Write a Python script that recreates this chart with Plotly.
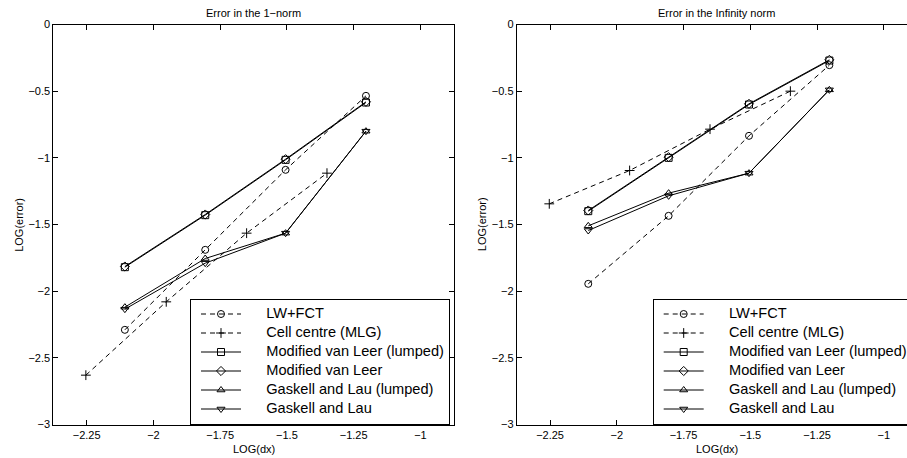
import plotly.graph_objects as go

# ---------------- data ----------------
dx_fine = [-2.107, -1.806, -1.505, -1.204]
dx_cell = [-2.253, -1.952, -1.651, -1.350]

series_names = ["LW+FCT", "Cell centre (MLG)", "Modified van Leer (lumped)",
                "Modified van Leer", "Gaskell and Lau (lumped)", "Gaskell and Lau"]

# Error in the 1-norm
lw_fct_1 = [-2.29, -1.69, -1.09, -0.535]
cell_1 = [-2.63, -2.08, -1.565, -1.115]
mvl_lumped_1 = [-1.82, -1.43, -1.015, -0.585]
mvl_1 = [-1.815, -1.425, -1.01, -0.58]
gl_lumped_1 = [-2.12, -1.755, -1.565, -0.80]
gl_1 = [-2.135, -1.79, -1.565, -0.80]

# Error in the Infinity norm
lw_fct_inf = [-1.945, -1.435, -0.835, -0.305]
cell_inf = [-1.345, -1.095, -0.785, -0.50]
mvl_lumped_inf = [-1.40, -1.0, -0.60, -0.27]
mvl_inf = [-1.395, -0.995, -0.595, -0.265]
gl_lumped_inf = [-1.51, -1.265, -1.115, -0.49]
gl_inf = [-1.545, -1.285, -1.115, -0.49]

x_tickvals = [-2.25, -2, -1.75, -1.5, -1.25, -1]
x_ticktext = ["\u22122.25", "\u22122", "\u22121.75", "\u22121.5", "\u22121.25", "\u22121"]
y_tickvals = [-3, -2.5, -2, -1.5, -1, -0.5, 0]
y_ticktext = ["\u22123", "\u22122.5", "\u22122", "\u22121.5", "\u22121", "\u22120.5", "0"]

titles = ["Error in the 1\u2212norm", "Error in the Infinity norm"]

# ---------------- figure ----------------
W, H = 907, 458
FONT = "Liberation Sans, Arial, Helvetica, sans-serif"
LEG_FS = 14.6

symbols = ["circle-open", "cross-thin-open", "square-open",
           "diamond-open", "triangle-up-open", "triangle-down-open"]
dashes = ["5px,4px", "5px,4px", "solid", "solid", "solid", "solid"]


def legend_label(name):
    return "<span style='font-size:%spx'>     %s</span>" % (LEG_FS, name)


fig = go.Figure()

panels = [
    (dx_fine, dx_cell, [lw_fct_1, cell_1, mvl_lumped_1, mvl_1, gl_lumped_1, gl_1], "x", "y", "legend"),
    (dx_fine, dx_cell, [lw_fct_inf, cell_inf, mvl_lumped_inf, mvl_inf, gl_lumped_inf, gl_inf], "x2", "y2", "legend2"),
]

for xf, xc, ys, xa, ya, lg in panels:
    for i, (name, yv) in enumerate(zip(series_names, ys)):
        xv = xc if i == 1 else xf
        fig.add_trace(go.Scatter(
            x=xv, y=yv, name=legend_label(name), mode="lines+markers",
            xaxis=xa, yaxis=ya, legend=lg,
            line=dict(color="black", width=1, dash=dashes[i]),
            marker=dict(symbol=symbols[i], size=7, color="black",
                        line=dict(color="black", width=1)),
        ))

# pixel geometry
ax_left = [53.3, 516.7]
px_per_x = 267.0
y_top, y_bot = 24.5, 424.5
x_lo = -2.375


def px(v):
    return v / W


def py(v):
    return 1 - v / H


axis_common = dict(
    showline=True, linecolor="black", linewidth=1,
    ticks="inside", ticklen=5, tickcolor="black", tickwidth=1,
    showgrid=False, zeroline=False,
    tickfont=dict(family=FONT, size=11, color="black"),
)

x1_right = ax_left[0] + 1.5 * px_per_x
x2_right = W
x2_hi = x_lo + (x2_right - ax_left[1]) / px_per_x

fig.update_layout(
    width=W, height=H,
    margin=dict(l=0, r=0, t=0, b=0, autoexpand=False),
    paper_bgcolor="white", plot_bgcolor="white",
    font=dict(family=FONT, size=11, color="black"),
    xaxis=dict(domain=[px(ax_left[0]), px(x1_right)], range=[x_lo, x_lo + 1.5],
               tickvals=x_tickvals, ticktext=x_ticktext, mirror="ticks",
               anchor="y", **axis_common),
    yaxis=dict(domain=[py(y_bot), py(y_top)], range=[-3, 0],
               tickvals=y_tickvals, ticktext=y_ticktext, mirror="ticks",
               anchor="x", **axis_common),
    xaxis2=dict(domain=[px(ax_left[1]), 1.0], range=[x_lo, x2_hi],
                tickvals=x_tickvals, ticktext=x_ticktext, mirror="ticks",
                anchor="y2", **axis_common),
    yaxis2=dict(domain=[py(y_bot), py(y_top)], range=[-3, 0],
                tickvals=y_tickvals, ticktext=y_ticktext, mirror=False,
                anchor="x2", **axis_common),
    showlegend=True,
)

legend_common = dict(
    bgcolor="white", bordercolor="black", borderwidth=1,
    font=dict(family=FONT, size=11, color="black"),
    xanchor="left", yanchor="bottom", itemwidth=40, indentation=5,
    tracegroupgap=0,
)
fig.update_layout(
    legend=dict(x=px(190), y=py(424.5), **legend_common),
    legend2=dict(x=px(652.7), y=py(424.5), **legend_common),
)

annotations = []
for k in range(2):
    cx = ax_left[k] + 0.75 * px_per_x
    annotations.append(dict(text=titles[k], x=px(cx), y=py(12.7), xref="paper", yref="paper",
                            xanchor="center", yanchor="middle", showarrow=False,
                            font=dict(family=FONT, size=11, color="black")))
    annotations.append(dict(text="LOG(dx)", x=px(cx), y=py(449), xref="paper", yref="paper",
                            xanchor="center", yanchor="middle", showarrow=False,
                            font=dict(family=FONT, size=11, color="black")))
    annotations.append(dict(text="LOG(error)", x=px(ax_left[k] - 35), y=py((y_top + y_bot) / 2),
                            xref="paper", yref="paper", textangle=-90,
                            xanchor="center", yanchor="middle", showarrow=False,
                            font=dict(family=FONT, size=11, color="black")))
fig.update_layout(annotations=annotations)

fig.write_html("out.html",
               config={"displayModeBar": False},
               post_script="document.body.style.margin='0px';document.body.style.overflow='hidden';")
